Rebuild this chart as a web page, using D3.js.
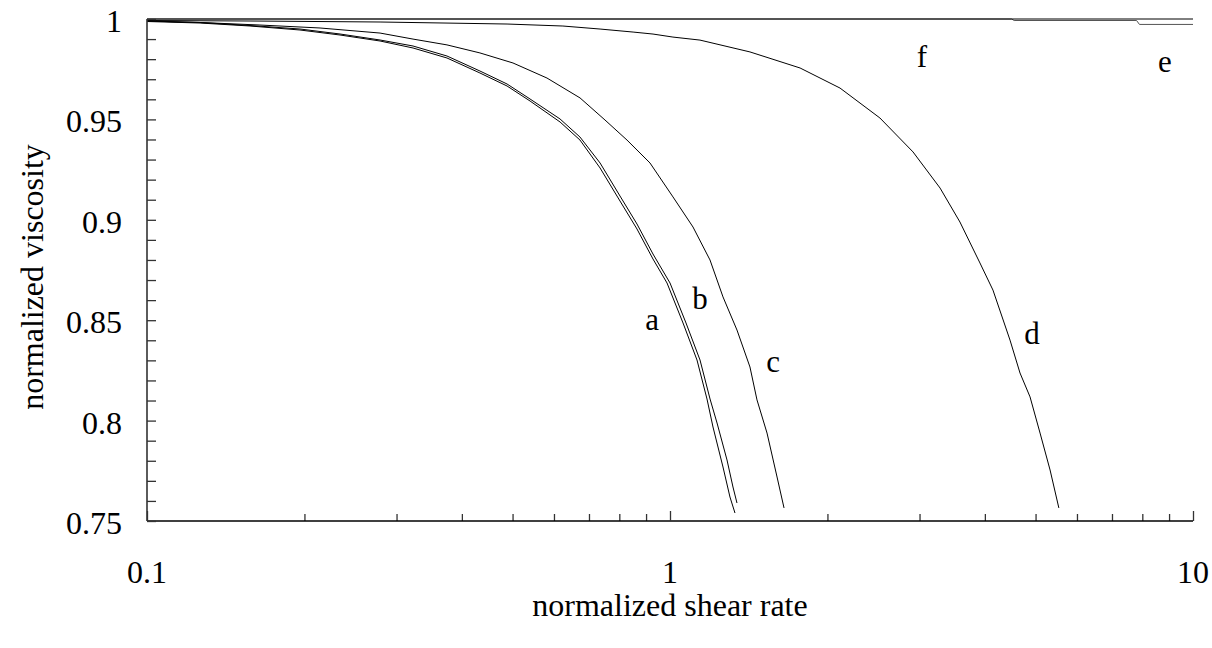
<!DOCTYPE html>
<html>
<head>
<meta charset="utf-8">
<script src="https://cdn.jsdelivr.net/npm/d3@7"></script>
<style>
  html, body { margin: 0; padding: 0; background: #fff; }
  svg { display: block; }
  text { font-family: "Liberation Serif", "Times New Roman", serif; fill: #000; }
</style>
</head>
<body>
<svg id="chart" width="1212" height="648"></svg>
<script>
// ---- data ----
const xTickLabels = ["0.1", "1", "10"];
const yTickLabels = ["0.75", "0.8", "0.85", "0.9", "0.95", "1"];

const seriesA_x = [0.1, 0.1263, 0.1574, 0.1961, 0.2339, 0.2790, 0.3226, 0.3746, 0.4331, 0.4880, 0.5400, 0.6163, 0.6727, 0.7350, 0.8024, 0.8647, 0.9278, 0.9869, 1.0590, 1.1262, 1.1769, 1.2084, 1.2628, 1.3021, 1.3312];
const seriesA_y = [0.99875, 0.9980, 0.99651, 0.99452, 0.99203, 0.98904, 0.98556, 0.98058, 0.97311, 0.96663, 0.95916, 0.94871, 0.93974, 0.92580, 0.90936, 0.89542, 0.88048, 0.86853, 0.84861, 0.83018, 0.81076, 0.79681, 0.77689, 0.76195, 0.75398];

const seriesB_x = [0.1, 0.1263, 0.1574, 0.1961, 0.2339, 0.2790, 0.3226, 0.3746, 0.4331, 0.4880, 0.5400, 0.6163, 0.6727, 0.7350, 0.8024, 0.8647, 0.9278, 1.0000, 1.0730, 1.1412, 1.1928, 1.2301, 1.2853, 1.3195, 1.3430];
const seriesB_y = [0.9990, 0.99826, 0.99676, 0.99502, 0.99253, 0.98954, 0.98655, 0.98157, 0.97410, 0.96763, 0.96016, 0.95020, 0.94124, 0.92829, 0.91185, 0.89791, 0.88297, 0.86853, 0.84861, 0.83018, 0.81076, 0.79880, 0.78038, 0.76693, 0.75896];

const seriesC_x = [0.1, 0.1263, 0.1644, 0.2142, 0.2790, 0.3226, 0.3746, 0.4331, 0.5009, 0.5818, 0.6729, 0.7511, 0.8276, 0.9157, 1.0132, 1.1066, 1.1925, 1.2628, 1.3430, 1.4220, 1.4667, 1.5329, 1.6021, 1.6520];
const seriesC_y = [0.9990, 0.99826, 0.9970, 0.99552, 0.9930, 0.9900, 0.9871, 0.9831, 0.9781, 0.9706, 0.9607, 0.9497, 0.9397, 0.9283, 0.9114, 0.8964, 0.8800, 0.8616, 0.8451, 0.8267, 0.8103, 0.7938, 0.7719, 0.7565];

const seriesD_x = [0.1, 0.1574, 0.2790, 0.4880, 0.6240, 0.7350, 0.8500, 0.9280, 1.0130, 1.1410, 1.4220, 1.7730, 2.1140, 2.5200, 2.9150, 3.2840, 3.5840, 3.9140, 4.1450, 4.4680, 4.6690, 4.8800, 5.1000, 5.3300, 5.5400];
const seriesD_y = [0.99925, 0.9990, 0.9985, 0.9975, 0.9965, 0.9950, 0.9935, 0.9925, 0.9910, 0.9895, 0.9836, 0.9756, 0.9656, 0.9507, 0.9338, 0.9158, 0.8989, 0.8785, 0.8650, 0.8401, 0.8237, 0.8118, 0.7938, 0.7754, 0.7565];

const seriesE_x = [0.1, 4.50, 4.55, 7.80, 7.90, 10];
const seriesE_y = [1.0, 1.0, 0.99925, 0.99925, 0.9973, 0.9973];

const seriesF_x = [0.1, 10];
const seriesF_y = [1.0, 1.0];

const curveNames = ["a", "b", "c", "d", "e", "f"];
const labelX = [0.924, 1.141, 1.574, 4.92, 8.84, 3.033];
const labelY = [0.8451, 0.8556, 0.8242, 0.8381, 0.9736, 0.9761];

// ---- chart ----
const svg = d3.select("#chart");
const margin = { left: 147, right: 1193, top: 19, bottom: 521 };

const x = d3.scaleLog().domain([0.1, 10]).range([margin.left, margin.right]);
const y = d3.scaleLinear().domain([0.75, 1]).range([margin.bottom, margin.top]);

const series = [
  [seriesA_x, seriesA_y], [seriesB_x, seriesB_y], [seriesC_x, seriesC_y],
  [seriesD_x, seriesD_y], [seriesE_x, seriesE_y], [seriesF_x, seriesF_y]
];

const line = d3.line().x(d => x(d[0])).y(d => y(d[1]));

// curves
series.forEach(([xs, ys], i) => {
  const pts = xs.map((v, j) => [v, ys[j]]);
  svg.append("path")
    .attr("d", line(pts))
    .attr("fill", "none")
    .attr("stroke", i === 4 ? "#555" : "#000")
    .attr("stroke-width", 1);
});

// x axis
const xMinor = [];
[0.1, 1].forEach(dec => { for (let k = 2; k <= 9; k++) xMinor.push(dec * k); });
const xMajor = [0.1, 1, 10];

const xAxisG = svg.append("g").attr("transform", `translate(0,${margin.bottom})`);
xAxisG.call(d3.axisBottom(x).tickValues(xMinor).tickSize(-7).tickFormat(""));
xAxisG.call(g => g.select(".domain").remove());
const xMajG = svg.append("g").attr("transform", `translate(0,${margin.bottom})`);
xMajG.call(d3.axisBottom(x).tickValues(xMajor).tickSize(-10).tickFormat(""));
xMajG.select(".domain").attr("d", `M${margin.left},0H${margin.right}`).attr("stroke-width", 1.6);
svg.selectAll(".tick line").attr("stroke", "#333").attr("stroke-width", 1.3);

// x tick labels
xTickLabels.forEach(t => {
  svg.append("text")
    .attr("x", x(+t))
    .attr("y", 583)
    .attr("text-anchor", "middle")
    .attr("font-size", 32)
    .text(t);
});

// y axis
const yTicks = d3.range(75, 101).map(v => v / 100);
const yAxisG = svg.append("g").attr("transform", `translate(${margin.left},0)`);
yAxisG.call(d3.axisLeft(y).tickValues(yTicks).tickSize(-9).tickFormat(""));
yAxisG.select(".domain").attr("d", `M0,${margin.top}V${margin.bottom}`).attr("stroke-width", 1.6).attr("stroke", "#333");
yAxisG.selectAll(".tick line").attr("stroke", "#333").attr("stroke-width", 1.3);

yTickLabels.forEach(t => {
  svg.append("text")
    .attr("x", 122)
    .attr("y", y(+t) + 13)
    .attr("text-anchor", "end")
    .attr("font-size", 32)
    .text(t);
});

// axis titles
svg.append("text")
  .attr("x", (margin.left + margin.right) / 2)
  .attr("y", 616)
  .attr("text-anchor", "middle")
  .attr("font-size", 32)
  .text("normalized shear rate");

svg.append("text")
  .attr("transform", `translate(43,277) rotate(-90)`)
  .attr("text-anchor", "middle")
  .attr("font-size", 32)
  .text("normalized viscosity");

// curve labels
curveNames.forEach((n, i) => {
  svg.append("text")
    .attr("x", x(labelX[i]))
    .attr("y", y(labelY[i]))
    .attr("text-anchor", "middle")
    .attr("font-size", 31)
    .text(n);
});
</script>
</body>
</html>
